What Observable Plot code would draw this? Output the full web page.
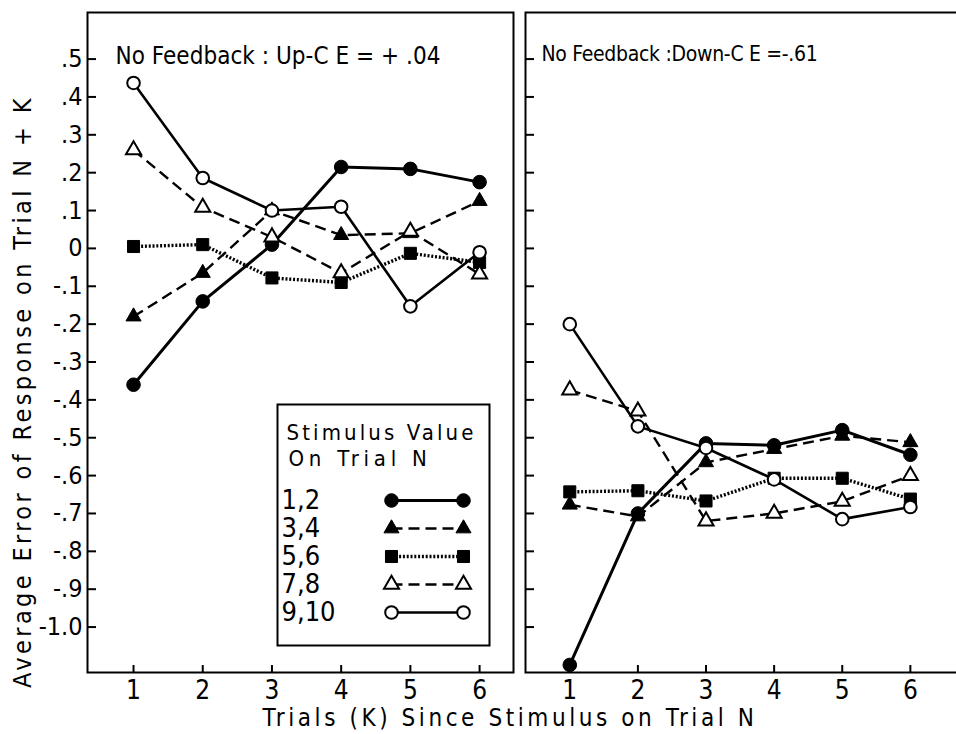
<!DOCTYPE html>
<html><head><meta charset="utf-8">
<script src="https://cdn.jsdelivr.net/npm/d3@7"></script>
<script src="https://cdn.jsdelivr.net/npm/@observablehq/plot@0.6"></script>
<style>
body{margin:0;background:#fff;overflow:hidden;}
#wrap{position:relative;width:956px;height:734px;overflow:hidden;font-family:"DejaVu Sans Condensed","DejaVu Sans",sans-serif;font-stretch:condensed;color:#000;}
#wrap > *{position:absolute;}
#wrap svg, #wrap svg text{font-stretch:condensed;}
.xlab{left:0;width:1020px;top:704px;text-align:center;font-size:24px;white-space:nowrap;}
</style></head><body><div id="wrap"></div>
<script>
// ---- data ----
const trials = [1, 2, 3, 4, 5, 6];
const seriesNames = ["1,2", "3,4", "5,6", "7,8", "9,10"];
// No Feedback: Up
const up12  = [-0.36, -0.14, 0.01, 0.215, 0.21, 0.175];
const up34  = [-0.18, -0.065, 0.10, 0.035, 0.04, 0.125];
const up56  = [0.005, 0.01, -0.078, -0.09, -0.013, -0.037];
const up78  = [0.26, 0.108, 0.03, -0.065, 0.045, -0.068];
const up910 = [0.437, 0.186, 0.10, 0.11, -0.153, -0.01];
// No Feedback: Down
const down12  = [-1.10, -0.70, -0.515, -0.52, -0.48, -0.545];
const down34  = [-0.677, -0.708, -0.565, -0.53, -0.495, -0.512];
const down56  = [-0.643, -0.64, -0.667, -0.607, -0.607, -0.662];
const down78  = [-0.374, -0.43, -0.72, -0.70, -0.668, -0.60];
const down910 = [-0.20, -0.47, -0.527, -0.61, -0.715, -0.683];
const yTickValues = [0.5, 0.4, 0.3, 0.2, 0.1, 0, -0.1, -0.2, -0.3, -0.4, -0.5, -0.6, -0.7, -0.8, -0.9, -1.0];
const yTickLabels = [".5", ".4", ".3", ".2", ".1", "0", "-.1", "-.2", "-.3", "-.4", "-.5", "-.6", "-.7", "-.8", "-.9", "-1.0"];
const xTickLabels = ["1", "2", "3", "4", "5", "6"];
const panelTitles = ["No Feedback : Up-C E = + .04", "No Feedback :Down-C E =-.61"];
const legendTitle = ["Stimulus Value", "On Trial N"];
const xLabel = "Trials (K) Since Stimulus on Trial N";
const yLabel = "Average Error of Response on Trial N + K";

// ---- styles ----
const FONT = getComputedStyle(document.getElementById("wrap")).fontFamily;
const styles = [
  {symbol: "circle",   r: 6.8, fill: "black", sw: 3,   dash: null},
  {symbol: "triangle", r: 5.6, fill: "black", sw: 2.4, dash: "11,6"},
  {symbol: "square",   r: 6.8, fill: "black", sw: 3.4, dash: "2,1.8"},
  {symbol: "triangle", r: 5.6, fill: "white", sw: 2.4, dash: "11,6"},
  {symbol: "circle",   r: 6.3, fill: "white", sw: 2.6, dash: null}
];

function buildRows(valuesList) {
  const rows = [];
  seriesNames.forEach((s, i) => trials.forEach((t, j) => rows.push({series: s, idx: i, trial: t, value: valuesList[i][j]})));
  return rows;
}

function seriesMarks(rows, xKey, yKey) {
  const marks = [];
  seriesNames.forEach((s, i) => {
    const st = styles[i];
    const d = rows.filter(r => r.idx === i);
    marks.push(Plot.line(d, {x: xKey, y: yKey, stroke: "black", strokeWidth: st.sw, strokeDasharray: st.dash, strokeLinecap: "butt", strokeLinejoin: "round"}));
  });
  seriesNames.forEach((s, i) => {
    const st = styles[i];
    const d = rows.filter(r => r.idx === i);
    marks.push(Plot.dot(d, {x: xKey, y: yKey, symbol: st.symbol, r: st.r, fill: st.fill, stroke: "black", strokeWidth: st.fill === "white" ? 2 : 1}));
  });
  return marks;
}

// stretch a text to a target width with letter-spacing (never squeeze much)
function fitSvgText(el, target) {
  if (!el) return;
  el.style.letterSpacing = "0px";
  const w = el.getComputedTextLength();
  const n = el.textContent.length;
  el.style.letterSpacing = Math.max(-0.3, (target - w) / n).toFixed(2) + "px";
}

const wrap = document.getElementById("wrap");

function panel(valuesList, title, o) {
  const rows = buildRows(valuesList);
  const marks = [
    Plot.frame({stroke: "black", strokeWidth: 2}),
    Plot.axisY(yTickValues, {anchor: "left", tickSize: -9, tickPadding: o.showYLabels ? 14 : 0, strokeWidth: 2,
      tickFormat: o.showYLabels ? (d => yTickLabels[yTickValues.indexOf(d)]) : (() => ""), fontSize: 25, label: null}),
    Plot.axisX(trials, {anchor: "bottom", tickSize: -7, tickPadding: 15, strokeWidth: 2,
      tickFormat: d => xTickLabels[trials.indexOf(d)], fontSize: 26, label: null}),
    ...seriesMarks(rows, "trial", "value"),
    Plot.text([title], {frameAnchor: "top-left", dx: o.titleDx, dy: 34, fontSize: o.titleSize, textAnchor: "start", className: "ptitle"})
  ];
  if (o.showYLabels) {
    marks.push(Plot.text([yLabel], {frameAnchor: "left", dx: -65, dy: 49, rotate: -90, fontSize: 25, textAnchor: "middle", className: "ylab"}));
  }
  const p = Plot.plot({
    width: o.width, height: 734,
    marginLeft: o.ml, marginRight: o.mr, marginTop: 12, marginBottom: 62,
    style: {fontFamily: FONT, fontStretch: "condensed", background: "transparent", overflow: "visible", color: "black"},
    x: {domain: o.xDomain, axis: null},
    y: {domain: [-1.12, 0.623], axis: null},
    marks
  });
  p.style.left = o.left + "px";
  p.style.top = "0px";
  wrap.appendChild(p);
  fitSvgText(p.querySelector("g.ptitle text"), o.titleWidth);
  return p;
}

const pLeft = panel([up12, up34, up56, up78, up910], panelTitles[0],
  {width: 518, ml: 87, mr: 5, left: 0, xDomain: [0.335, 6.49], showYLabels: true, titleDx: 28, titleSize: 24, titleWidth: 325});
fitSvgText(pLeft.querySelector("g.ylab text"), 593);

panel([down12, down34, down56, down78, down910], panelTitles[1],
  {width: 445, ml: 7, mr: 0, left: 518, xDomain: [0.35, 6.78], showYLabels: false, titleDx: 16, titleSize: 21, titleWidth: 262});

// ---- legend ----
const legendRows = [];
seriesNames.forEach((s, i) => [0, 1].forEach(k => legendRows.push({series: s, idx: i, pos: k})));
const legendLabelRows = seriesNames.map((s, i) => ({series: s, idx: i}));
const leg = Plot.plot({
  width: 212, height: 241, margin: 0,
  style: {fontFamily: FONT, fontStretch: "condensed", background: "white", overflow: "visible"},
  x: {domain: [0, 1], range: [114, 186], axis: null},
  y: {domain: seriesNames, type: "point", range: [82, 222], axis: null},
  marks: [
    Plot.frame({stroke: "black", strokeWidth: 2}),
    Plot.text([legendTitle[0]], {frameAnchor: "top-left", dx: 9, dy: 20, fontSize: 22, textAnchor: "start", className: "lt0"}),
    Plot.text([legendTitle[1]], {frameAnchor: "top-left", dx: 11, dy: 46, fontSize: 22, textAnchor: "start", className: "lt1"}),
    Plot.text(legendLabelRows, {y: "series", text: "series", frameAnchor: "left", dx: 4, fontSize: 27, textAnchor: "start"}),
    ...seriesMarks(legendRows, "pos", "series")
  ]
});
leg.style.left = "277px";
leg.style.top = "404px";
wrap.appendChild(leg);
fitSvgText(leg.querySelector("g.lt0 text"), 190);
fitSvgText(leg.querySelector("g.lt1 text"), 143);

// ---- x label ----
const xl = document.createElement("div");
xl.className = "xlab";
const xs = document.createElement("span");
xs.textContent = xLabel;
xl.appendChild(xs);
wrap.appendChild(xl);
const xw = xs.getBoundingClientRect().width;
xs.style.letterSpacing = ((495 - xw) / xLabel.length).toFixed(2) + "px";
</script></body></html>
